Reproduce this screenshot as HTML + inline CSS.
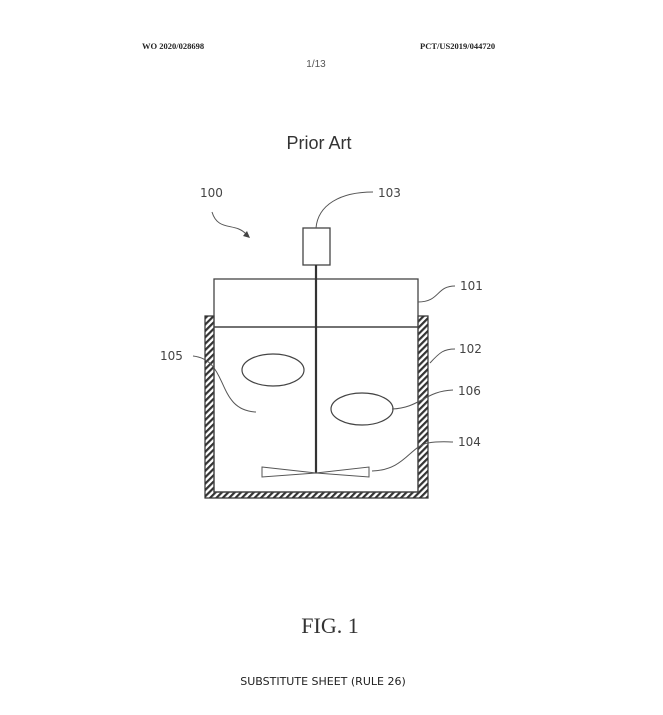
<!DOCTYPE html>
<html><head><meta charset="utf-8"><style>
html,body{margin:0;padding:0;background:#fff;}
body{width:663px;height:715px;overflow:hidden;position:relative;}
</style></head><body>
<svg width="663" height="715" viewBox="0 0 663 715" xmlns="http://www.w3.org/2000/svg" style="position:absolute;left:0;top:0">
<defs>
<pattern id="h" patternUnits="userSpaceOnUse" width="4.5" height="4.5" patternTransform="rotate(45)">
<rect width="4.5" height="4.5" fill="#fff"/>
<rect width="2.2" height="4.5" fill="#333"/>
</pattern>
</defs>
<g font-family="Liberation Serif, serif" font-weight="bold" font-size="8.5" fill="#222">
<text x="142" y="49">WO 2020/028698</text>
<text x="420" y="49">PCT/US2019/044720</text>
</g>
<text x="316" y="67" font-family="Liberation Sans, sans-serif" font-size="10" fill="#555" text-anchor="middle">1/13</text>
<text x="319" y="149" font-family="Liberation Sans, sans-serif" font-size="18" fill="#333" text-anchor="middle">Prior Art</text>

<path d="M205,316 H214 V492 H418 V316 H428 V498 H205 Z" fill="url(#h)" stroke="#333" stroke-width="1.2"/>
<rect x="214" y="279" width="204" height="213" fill="none" stroke="#444" stroke-width="1.3"/>
<line x1="214" y1="327" x2="418" y2="327" stroke="#444" stroke-width="1.5"/>
<rect x="303" y="228" width="27" height="37" fill="#fff" stroke="#444" stroke-width="1.3"/>
<line x1="316" y1="265" x2="316" y2="473" stroke="#333" stroke-width="2.2"/>
<path d="M262,467 L316,473 L369,467 L369,477 L316,473 L262,477 Z" fill="#fff" stroke="#555" stroke-width="1"/>
<ellipse cx="273" cy="370" rx="31" ry="16" fill="none" stroke="#444" stroke-width="1.2"/>
<ellipse cx="362" cy="409" rx="31" ry="16" fill="none" stroke="#444" stroke-width="1.2"/>

<g fill="none" stroke="#555" stroke-width="1">
<path d="M316,228 C318,205 340,192 373,192"/>
<path d="M418,302 C440,302 436,286 455,286"/>
<path d="M430,363 C440,352 444,349 455,349"/>
<path d="M392,409 C420,408 425,391 453,390"/>
<path d="M372,471 C405,470 410,446 428,443 C440,441 447,442 453,442"/>
<path d="M193,356 C230,360 215,410 256,412"/>
<path d="M212,212 C218,232 235,222 246,234"/>
</g>
<path d="M243,236 L250,238 L247,231 Z" fill="#444"/>

<g font-family="DejaVu Sans, sans-serif" font-size="12" fill="#444">
<text x="200" y="197">100</text>
<text x="378" y="197">103</text>
<text x="460" y="290">101</text>
<text x="459" y="353">102</text>
<text x="458" y="395">106</text>
<text x="458" y="446">104</text>
<text x="160" y="360">105</text>
</g>
<text x="330" y="633" font-family="Liberation Serif, serif" font-size="22" fill="#333" text-anchor="middle">FIG. 1</text>
<text x="323" y="685" font-family="DejaVu Sans, sans-serif" font-size="11" fill="#222" text-anchor="middle">SUBSTITUTE SHEET (RULE 26)</text>
</svg>
</body></html>
